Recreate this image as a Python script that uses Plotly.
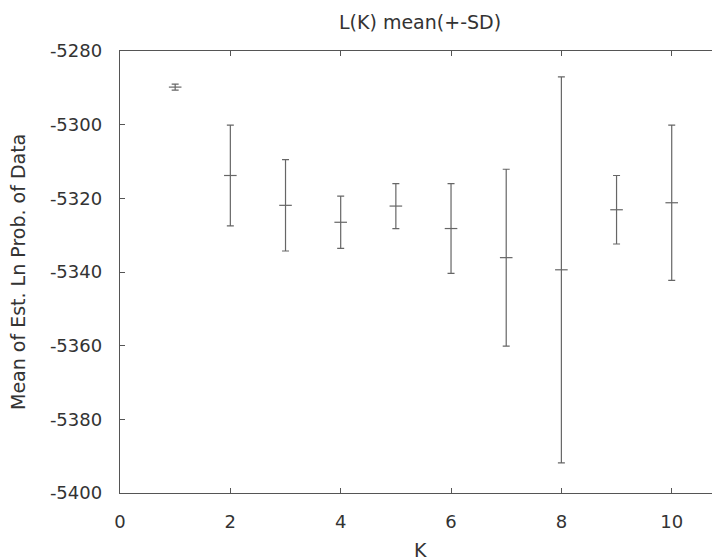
import plotly.graph_objects as go

# Data
k_values = [1, 2, 3, 4, 5, 6, 7, 8, 9, 10]
mean_lnp = [-5289.8, -5313.8, -5321.9, -5326.5, -5322.1, -5328.2, -5336.1, -5339.4, -5323.1, -5321.2]
sd_lnp = [0.8, 13.7, 12.4, 7.1, 6.1, 12.2, 24.0, 52.4, 9.3, 21.1]

x_ticks = [0, 2, 4, 6, 8, 10]
y_ticks = [-5400, -5380, -5360, -5340, -5320, -5300, -5280]

title_text = "L(K) mean(+-SD)"
x_title = "K"
y_title = "Mean of Est. Ln Prob. of Data"

FONT = "DejaVu Sans"
MARK = "#666666"
AXIS = "#555555"
TEXT = "#333333"

fig = go.Figure()
fig.add_trace(go.Scatter(
    x=k_values, y=mean_lnp, mode="markers",
    marker=dict(symbol="line-ew", size=9, line=dict(width=1.2, color=MARK), color=MARK),
    error_y=dict(type="data", array=sd_lnp, visible=True, thickness=1.2, width=3.5, color=MARK),
    showlegend=False, hoverinfo="x+y",
))

# The page body has an 8px margin, so the figure is sized to end at the window edge.
fig.update_layout(
    width=712, height=552,
    margin=dict(l=112, r=0, t=43, b=67),
    paper_bgcolor="white", plot_bgcolor="white",
    font=dict(family=FONT, size=18, color=TEXT),
    xaxis=dict(
        range=[0, 10.875], tickvals=x_ticks, ticktext=[str(v) for v in x_ticks],
        ticks="inside", ticklen=5, tickwidth=1.2, tickcolor=AXIS,
        showline=True, linecolor=AXIS, linewidth=1.4, mirror="ticks",
        showgrid=False, zeroline=False, ticklabelstandoff=12,
        tickfont=dict(family=FONT, size=18, color=TEXT),
    ),
    yaxis=dict(
        range=[-5400, -5280], tickvals=y_ticks, ticktext=[str(v) for v in y_ticks],
        ticks="inside", ticklen=5, tickwidth=1.2, tickcolor=AXIS,
        showline=True, linecolor=AXIS, linewidth=1.4, mirror=False,
        showgrid=False, zeroline=False, ticklabelstandoff=13,
        tickfont=dict(family=FONT, size=18, color=TEXT),
    ),
    annotations=[
        dict(text=title_text, xref="paper", yref="paper", x=0.5, y=1, xanchor="center",
             yanchor="middle", yshift=29, showarrow=False, font=dict(family=FONT, size=19, color=TEXT)),
        dict(text=x_title, xref="paper", yref="paper", x=0.5, y=0, xanchor="center",
             yanchor="middle", yshift=-57, showarrow=False, font=dict(family=FONT, size=19, color=TEXT)),
        dict(text=y_title, xref="paper", yref="paper", x=0, y=0.5, xanchor="center",
             yanchor="middle", xshift=-102, textangle=-90, showarrow=False,
             font=dict(family=FONT, size=19, color=TEXT)),
    ],
)

fig.write_html("out.html")
